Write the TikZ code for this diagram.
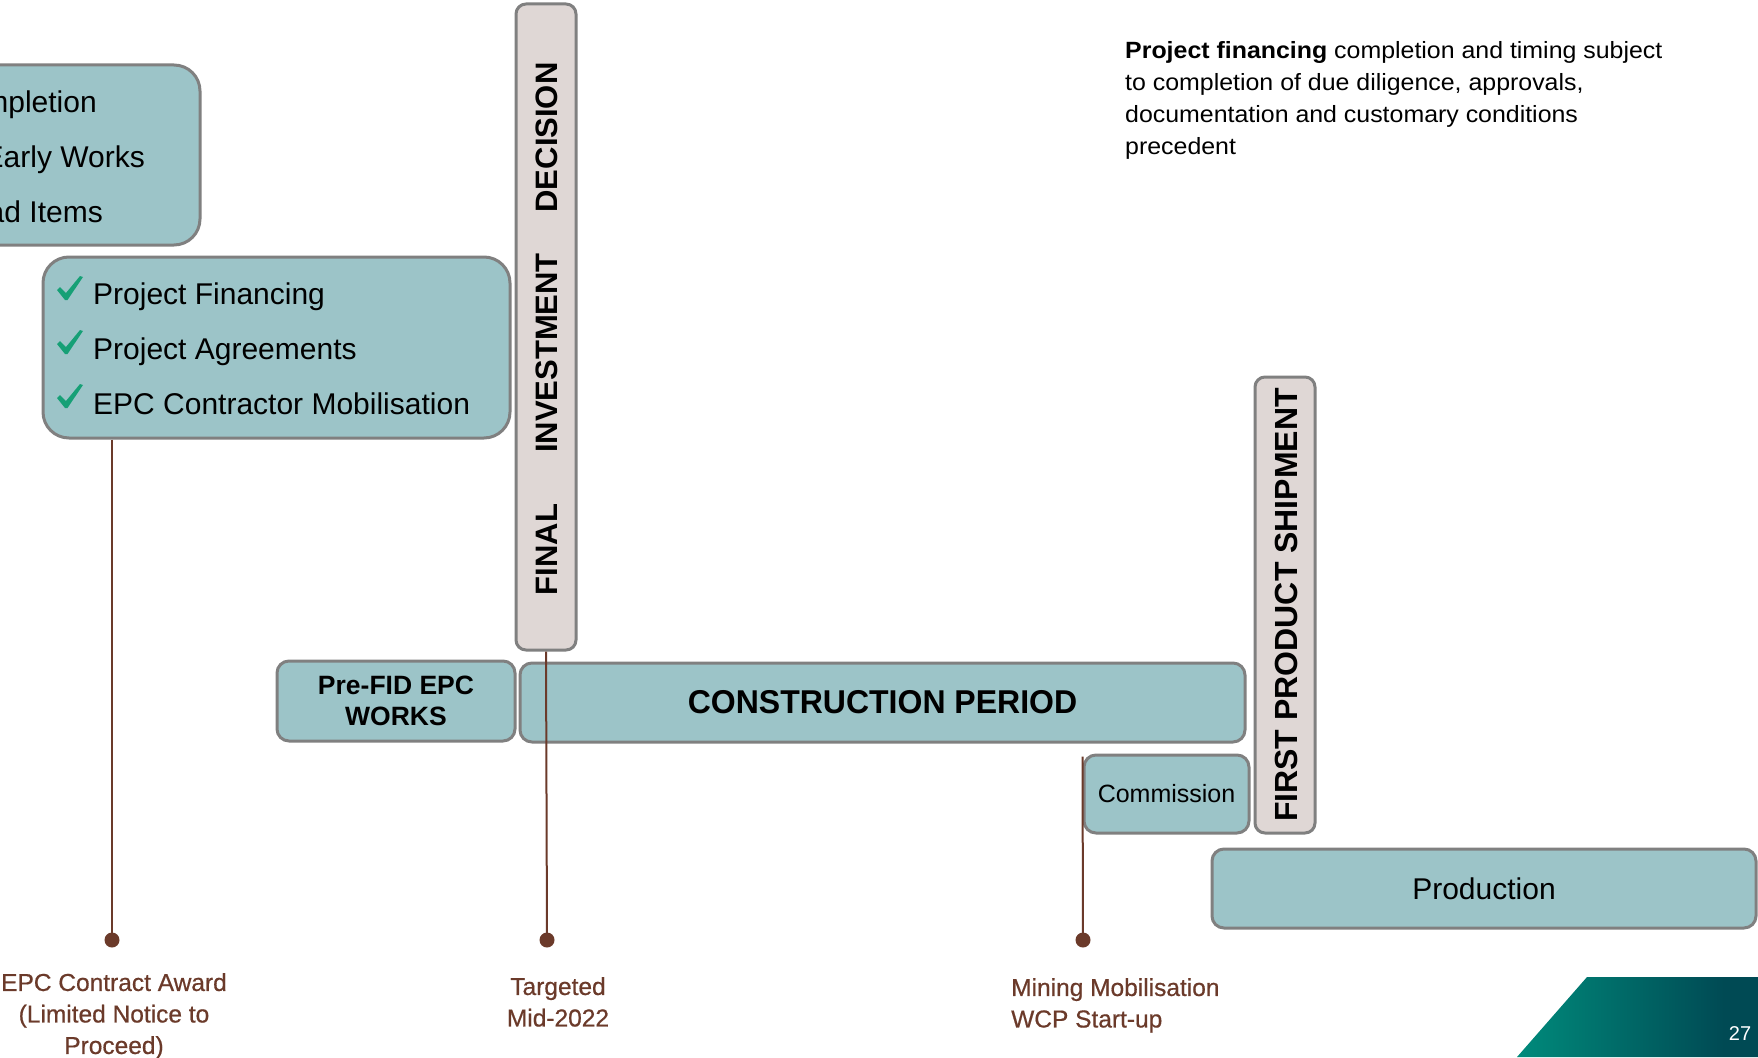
\documentclass[tikz,border=0pt]{standalone}
\usepackage{fontspec}
\setmainfont{Liberation Sans}
\newfontfamily\notefont[FakeStretch=1.06]{Liberation Sans}
\newfontfamily\labelfont[FakeBold=0.6]{Liberation Sans}
\newfontfamily\narrowbold[FakeStretch=0.97]{Liberation Sans}

\definecolor{boxteal}{RGB}{156,196,200}
\definecolor{boxedge}{RGB}{128,128,128}
\definecolor{fidfill}{RGB}{223,215,213}
\definecolor{stembrown}{RGB}{107,58,42}
\definecolor{tickgreen}{RGB}{22,160,118}
\definecolor{bandlight}{RGB}{0,176,146}
\definecolor{banddark}{RGB}{0,74,84}

\pgfdeclarehorizontalshading{bandshade}{100bp}{color(0bp)=(bandlight); color(68bp)=(banddark); color(100bp)=(banddark)}

\newcommand{\fsz}[2]{\fontsize{#1}{#2}\selectfont}

\begin{document}
\begin{tikzpicture}[x=1pt,y=-1pt,
  phase/.style={draw=boxedge, line width=3pt, fill=boxteal, rounded corners=12pt,
    inner sep=0pt, anchor=center, text=black},
  bigbox/.style={phase, rounded corners=26pt},
  milestone/.style={draw=boxedge, line width=3pt, fill=fidfill, rounded corners=10pt,
    inner sep=0pt, anchor=center},
  vtext/.style={rotate=90, font=\bfseries\fsz{31}{31}, inner sep=0pt},
  listtext/.style={font=\fsz{30}{30}, inner sep=0pt, text=black},
  tickmark/.style={fill=tickgreen, draw=none},
  stem/.style={draw=stembrown, line width=2pt},
  stemdot/.style={fill=stembrown, draw=none},
  eventlabel/.style={font=\labelfont\fsz{24.5}{31.5}, text=stembrown, inner sep=0pt}
]
\useasboundingbox (0,0) rectangle (1758,1057);
\fill[white] (0,0) rectangle (1758,1057);

\begin{scope}
\clip (0,0) rectangle (1758,1057);

% earlier-phase box, running off the left edge
\node[bigbox, minimum width=262pt, minimum height=180pt] (early) at (69,155) {};
\node[listtext, anchor=east] (e1) at (97,105) {Completion};
\node[listtext, anchor=east] (e2) at (145,160) {Early Works};
\node[listtext, anchor=east] (e3) at (103,212) {Lead Items};

% pre-FID checklist
\node[bigbox, minimum width=467pt, minimum height=181pt] (chk) at (276.5,347.5) {};
\foreach \ty [count=\i] in {289,343,397} {
  \fill[tickmark] (57,\ty+1) -- (60,\ty-2) -- (66,\ty+4) -- (80,\ty-13)
    -- (83,\ty-12) -- (67.5,\ty+11) -- (65,\ty+11) -- cycle;
}
\node[listtext, anchor=west] (c1) at (93,297) {Project Financing};
\node[listtext, anchor=west] (c2) at (93,352) {Project Agreements};
\node[listtext, anchor=west] (c3) at (93,404) {EPC Contractor Mobilisation};

% final investment decision bar
\node[milestone, minimum width=60pt, minimum height=646pt] (fid) at (546,327) {};
\node[vtext] (fid1) at (547,549.5) {FINAL};
\node[vtext] (fid2) at (547,353) {INVESTMENT};
\node[vtext] (fid3) at (547,137.5) {DECISION};

% schedule phases
\node[phase, minimum width=238pt, minimum height=80pt, align=center,
  font=\bfseries\fsz{26.5}{31}] (prefid) at (396,701) {Pre-FID EPC\\WORKS};
\node[phase, minimum width=725pt, minimum height=79pt,
  font=\narrowbold\bfseries\fsz{33}{33}] (constr) at (882.5,702.5) {CONSTRUCTION PERIOD};
\node[phase, minimum width=165pt, minimum height=78pt,
  font=\fsz{25}{25}] (comm) at (1166.5,794) {Commission};
\node[milestone, minimum width=60pt, minimum height=456pt] (fps) at (1285,605) {};
\node[vtext, font=\bfseries\fsz{32}{32}] (fpst) at (1286,605) {FIRST PRODUCT SHIPMENT};
\node[phase, minimum width=544pt, minimum height=79pt,
  font=\fsz{30}{30}] (prod) at (1484,888.5) {Production};

% event stems
\coordinate (d1) at (112,940);
\coordinate (d2) at (547,940);
\coordinate (d3) at (1083,940);
\draw[stem] (d1 |- chk.south) -- (d1);
\draw[stem] (fid.south) -- (d2);
\draw[stem] (comm.north west) ++(0,3) coordinate (cs) (cs) -- (d3);
\fill[stemdot] (d1) circle (7.5pt);
\fill[stemdot] (d2) circle (7.5pt);
\fill[stemdot] (d3) circle (7.5pt);

% event labels
\node[eventlabel, align=center, anchor=north] (l1) at (114,973) {EPC Contract Award\\(Limited Notice to\\Proceed)};
\node[eventlabel, align=center, anchor=north] (l2) at (558,977) {Targeted\\Mid-2022};
\node[eventlabel, align=left, anchor=north west] (l3) at (1011,978) {Mining Mobilisation\\WCP Start-up};

% financing note
\node[anchor=north west, align=left, inner sep=0pt, font=\notefont\fsz{23.5}{32}] (note) at (1125,41)
  {\textbf{Project financing} completion and timing subject\\
   to completion of due diligence, approvals,\\
   documentation and customary conditions\\
   precedent};

% page corner band
\shade[shading=bandshade] (1587,977) -- (1758,977) -- (1758,1057) -- (1517,1057) -- cycle;
\node[text=white, font=\fsz{20}{20}, inner sep=0pt] (pg) at (1740,1034) {27};
\end{scope}
\end{tikzpicture}
\end{document}
